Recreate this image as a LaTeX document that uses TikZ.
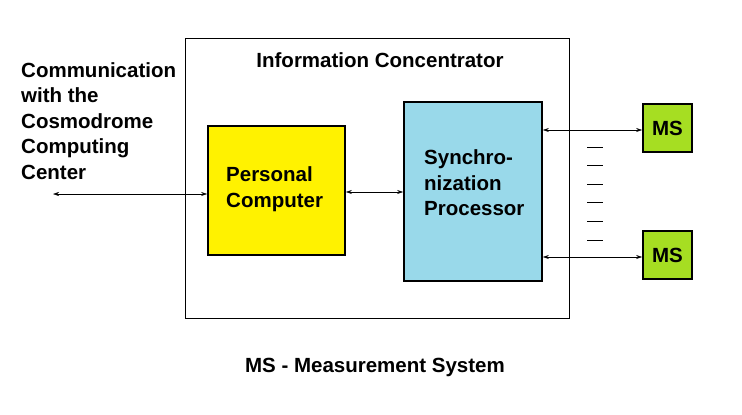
\documentclass[tikz,border=0pt]{standalone}
\usepackage{fontspec}
\setmainfont{Liberation Sans}
\usetikzlibrary{arrows.meta}
\definecolor{pcyellow}{RGB}{255,242,0}
\definecolor{spblue}{RGB}{153,217,234}
\definecolor{msgreen}{RGB}{166,222,34}
\begin{document}
\begin{tikzpicture}[
        x=1pt, y=-1pt,
        every node/.style={font=\fontsize{20.5}{25.5}\selectfont\bfseries, inner sep=0pt},
        unit/.style={draw, line width=1.6pt, align=left},
        link/.style={{Stealth[length=6pt,width=4pt]}-{Stealth[length=6pt,width=4pt]}, line width=0.5pt}
    ]
    \useasboundingbox (0,0) rectangle (742,415);

    % outer box
    \draw[line width=0.5pt] (185,38) rectangle (569,318);
    \node (title) at (380,60) {Information Concentrator};

    % units
    \node[unit, fill=pcyellow, minimum width=137pt, minimum height=129pt] (pc) at (276.5,190.5) {};
    \node[align=left, anchor=west] (pctext) at (226,189) {Personal\\Computer};
    \node[unit, fill=spblue, minimum width=138pt, minimum height=179pt] (sp) at (473,191.5) {};
    \node[align=left, anchor=west] (sptext) at (424,183) {Synchro-\\nization\\Processor};
    \node[unit, fill=msgreen, minimum width=49pt, minimum height=48pt] (ms1) at (667.5,128) {MS};
    \node[unit, fill=msgreen, minimum width=49pt, minimum height=48pt] (ms2) at (667.5,255) {MS};

    % left text
    \node[align=left, anchor=north west] (comm) at (21,62) {Communication\\with the\\Cosmodrome\\Computing\\Center};
    \coordinate (ext) at (53,194);

    % connectors
    \draw[link] (ext) -- (ext -| pc.west);
    \draw[link] (pc.east |- 0,192) -- (sp.west |- 0,192);
    \draw[link] (sp.east |- 0,130) -- (ms1.west |- 0,130);
    \draw[link] (sp.east |- 0,257) -- (ms2.west |- 0,257);

    % dashes
    \foreach \y in {147,165,184,202,221,240}
        \draw[line width=0.5pt] (587,\y) -- (603,\y);

    \node (legend) at (375,367) {MS - Measurement System};
\end{tikzpicture}
\end{document}
